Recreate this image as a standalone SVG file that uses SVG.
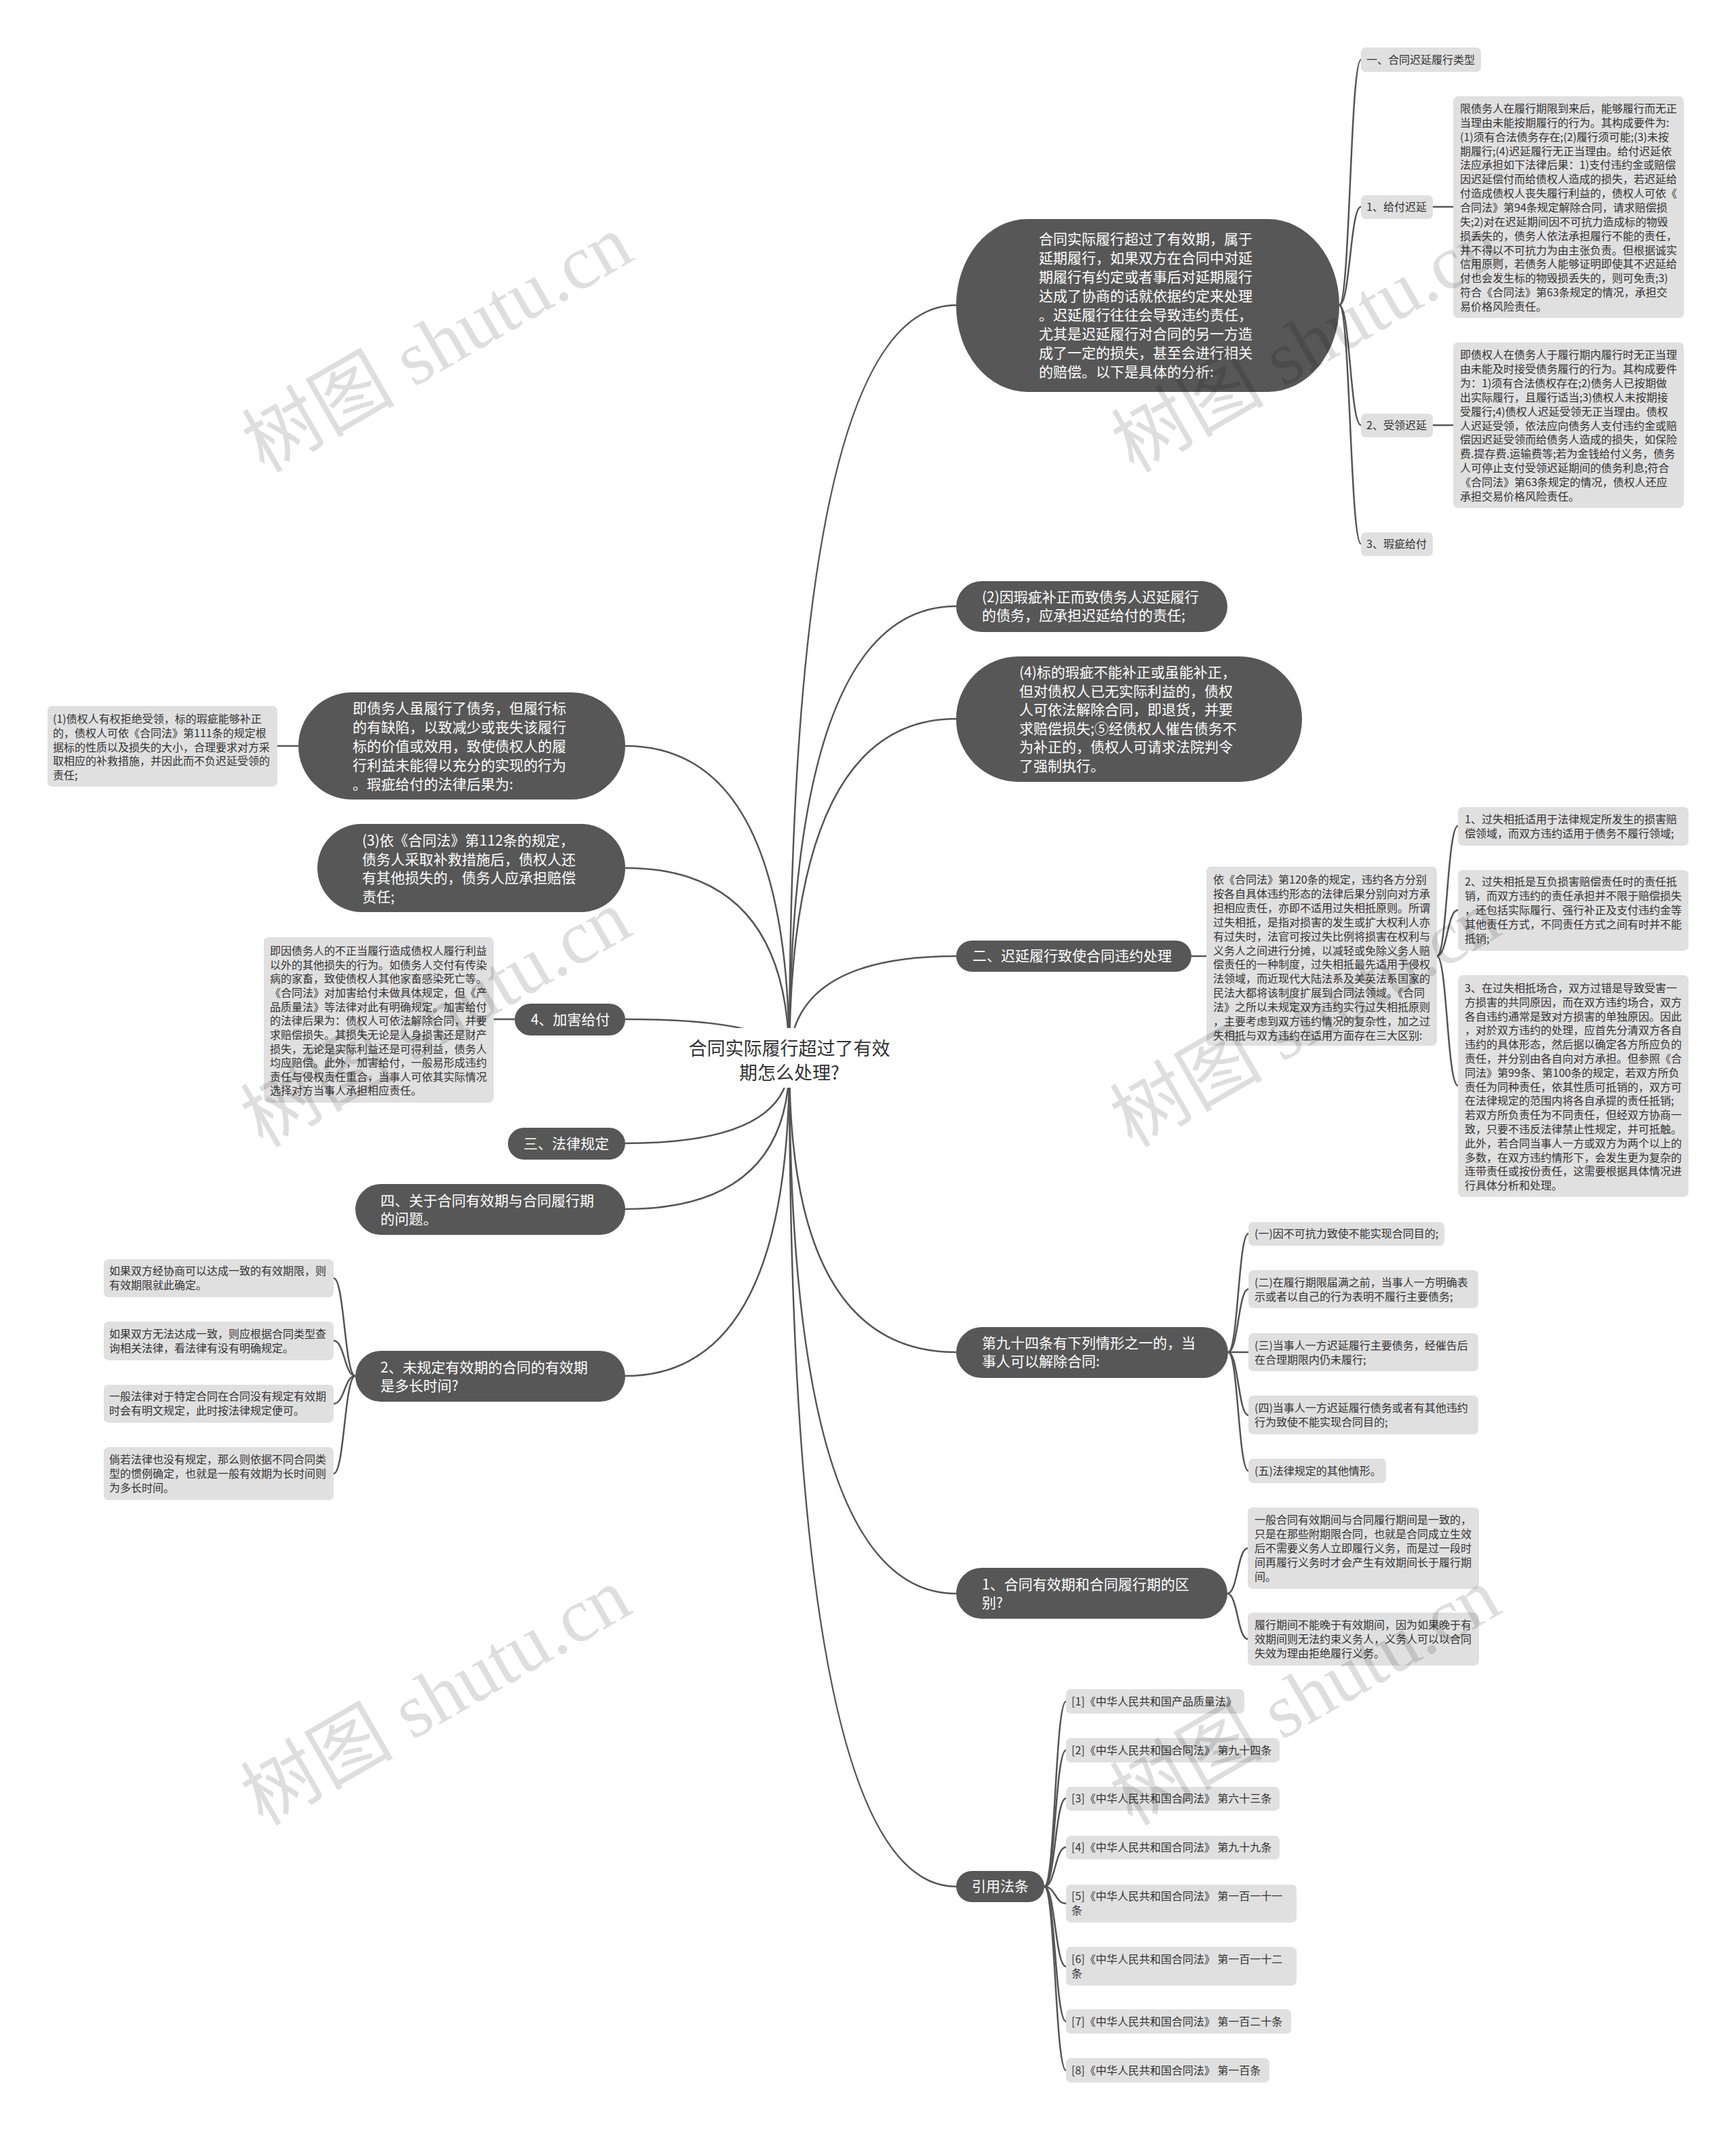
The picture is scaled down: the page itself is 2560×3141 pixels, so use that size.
<svg xmlns="http://www.w3.org/2000/svg" width="2560" height="3141" viewBox="0 0 2560 3141">
<style>
.dk{fill:#575757}
.lt{fill:#e0e0e0}
.tw{fill:#ffffff;font-family:"Noto Sans CJK SC","Liberation Sans",sans-serif;font-size:21px}
.td{fill:#333333;font-family:"Noto Sans CJK SC","Liberation Sans",sans-serif;font-size:16px}
.rt{fill:#333333;font-family:"Noto Sans CJK SC","Liberation Sans",sans-serif;font-size:27px}
.c{fill:none;stroke:#555555;stroke-width:2.5}
.wm{fill:#000000;fill-opacity:0.13;font-family:"Liberation Serif","Noto Sans CJK SC",serif;font-size:113px}
</style>
<rect width="2560" height="3141" fill="#ffffff"/>
<g id="connectors">
<path class="c" d="M1164 1566 Q1164 450 1410 450"/>
<path class="c" d="M1164 1566 Q1164 894 1410 894"/>
<path class="c" d="M1164 1566 Q1164 1060 1410 1060"/>
<path class="c" d="M1164 1566 Q1164 1410 1410 1410"/>
<path class="c" d="M1164 1566 Q1164 1994 1410 1994"/>
<path class="c" d="M1164 1566 Q1164 2350 1410 2350"/>
<path class="c" d="M1164 1566 Q1164 2782 1410 2782"/>
<path class="c" d="M1164 1566 Q1164 1100 922 1100"/>
<path class="c" d="M1164 1566 Q1164 1280 922 1280"/>
<path class="c" d="M1164 1566 Q1164 1503 922 1503"/>
<path class="c" d="M1164 1566 Q1164 1686 922 1686"/>
<path class="c" d="M1164 1566 Q1164 1783 922 1783"/>
<path class="c" d="M1164 1566 Q1164 2029 922 2029"/>
<path class="c" d="M1975 450 C1991 450 1991 88 2007 88"/>
<path class="c" d="M1975 450 C1991 450 1991 305 2007 305"/>
<path class="c" d="M1975 450 C1991 450 1991 627 2007 627"/>
<path class="c" d="M1975 450 C1991 450 1991 802 2007 802"/>
<path class="c" d="M2113 305 L2143 305"/>
<path class="c" d="M2113 627 L2143 627"/>
<path class="c" d="M1757 1410 L1779 1410"/>
<path class="c" d="M2119 1410 C2134 1410 2134 1218 2150 1218"/>
<path class="c" d="M2119 1410 C2134 1410 2134 1342 2150 1342"/>
<path class="c" d="M2119 1410 C2134 1410 2134 1601 2150 1601"/>
<path class="c" d="M1811 1994 C1826 1994 1826 1819 1841 1819"/>
<path class="c" d="M1811 1994 C1826 1994 1826 1901 1841 1901"/>
<path class="c" d="M1811 1994 L1841 1994"/>
<path class="c" d="M1811 1994 C1826 1994 1826 2087 1841 2087"/>
<path class="c" d="M1811 1994 C1826 1994 1826 2169 1841 2169"/>
<path class="c" d="M1810 2350 C1825 2350 1825 2283 1840 2283"/>
<path class="c" d="M1810 2350 C1825 2350 1825 2417 1840 2417"/>
<path class="c" d="M1540 2782 C1556 2782 1556 2509 1572 2509"/>
<path class="c" d="M1540 2782 C1556 2782 1556 2581 1572 2581"/>
<path class="c" d="M1540 2782 C1556 2782 1556 2652 1572 2652"/>
<path class="c" d="M1540 2782 C1556 2782 1556 2724 1572 2724"/>
<path class="c" d="M1540 2782 C1556 2782 1556 2807 1572 2807"/>
<path class="c" d="M1540 2782 C1556 2782 1556 2900 1572 2900"/>
<path class="c" d="M1540 2782 C1556 2782 1556 2981 1572 2981"/>
<path class="c" d="M1540 2782 C1556 2782 1556 3053 1572 3053"/>
<path class="c" d="M440 1100 L409 1100"/>
<path class="c" d="M759 1503 L728 1503"/>
<path class="c" d="M524 2029 C508 2029 508 1885 492 1885"/>
<path class="c" d="M524 2029 C508 2029 508 1977 492 1977"/>
<path class="c" d="M524 2029 C508 2029 508 2070 492 2070"/>
<path class="c" d="M524 2029 C508 2029 508 2173 492 2173"/>
</g>
<g id="root">
<rect x="996" y="1516" width="336" height="88" rx="10" fill="#ffffff"/>
<text class="rt" text-anchor="middle"><tspan x="1164" y="1556">合同实际履行超过了有效</tspan><tspan x="1164" y="1592">期怎么处理?</tspan></text>
</g>
<g id="nA">
<rect class="dk" x="1410" y="323" width="565" height="255" rx="105" ry="127"/>
<text class="tw"><tspan x="1532" y="360">合同实际履行超过了有效期，属于</tspan><tspan x="1532" y="388">延期履行，如果双方在合同中对延</tspan><tspan x="1532" y="416">期履行有约定或者事后对延期履行</tspan><tspan x="1532" y="444">达成了协商的话就依据约定来处理</tspan><tspan x="1532" y="472">。迟延履行往往会导致违约责任，</tspan><tspan x="1532" y="500">尤其是迟延履行对合同的另一方造</tspan><tspan x="1532" y="528">成了一定的损失，甚至会进行相关</tspan><tspan x="1532" y="556">的赔偿。以下是具体的分析:</tspan></text>
</g>
<g id="nA1">
<rect class="lt" x="2007" y="70" width="177" height="36" rx="7"/>
<text class="td" x="2015" y="94">一、合同迟延履行类型</text>
</g>
<g id="nA2">
<rect class="lt" x="2007" y="288" width="106" height="35" rx="7"/>
<text class="td" x="2015" y="311">1、给付迟延</text>
</g>
<g id="nA2t">
<rect class="lt" x="2143" y="142" width="340" height="327" rx="7"/>
<text class="td"><tspan x="2153" y="166">限债务人在履行期限到来后，能够履行而无正</tspan><tspan x="2153" y="187">当理由未能按期履行的行为。其构成要件为:</tspan><tspan x="2153" y="208">(1)须有合法债务存在;(2)履行须可能;(3)未按</tspan><tspan x="2153" y="229">期履行;(4)迟延履行无正当理由。给付迟延依</tspan><tspan x="2153" y="249">法应承担如下法律后果：1)支付违约金或赔偿</tspan><tspan x="2153" y="270">因迟延偿付而给债权人造成的损失，若迟延给</tspan><tspan x="2153" y="291">付造成债权人丧失履行利益的，债权人可依《</tspan><tspan x="2153" y="312">合同法》第94条规定解除合同，请求赔偿损</tspan><tspan x="2153" y="333">失;2)对在迟延期间因不可抗力造成标的物毁</tspan><tspan x="2153" y="354">损丢失的，债务人依法承担履行不能的责任，</tspan><tspan x="2153" y="375">并不得以不可抗力为由主张负责。但根据诚实</tspan><tspan x="2153" y="395">信用原则，若债务人能够证明即使其不迟延给</tspan><tspan x="2153" y="416">付也会发生标的物毁损丢失的，则可免责;3)</tspan><tspan x="2153" y="437">符合《合同法》第63条规定的情况，承担交</tspan><tspan x="2153" y="458">易价格风险责任。</tspan></text>
</g>
<g id="nA3">
<rect class="lt" x="2007" y="610" width="106" height="35" rx="7"/>
<text class="td" x="2015" y="633">2、受领迟延</text>
</g>
<g id="nA3t">
<rect class="lt" x="2143" y="505" width="340" height="244" rx="7"/>
<text class="td"><tspan x="2153" y="529">即债权人在债务人于履行期内履行时无正当理</tspan><tspan x="2153" y="550">由未能及时接受债务履行的行为。其构成要件</tspan><tspan x="2153" y="571">为：1)须有合法债权存在;2)债务人已按期做</tspan><tspan x="2153" y="592">出实际履行，且履行适当;3)债权人未按期接</tspan><tspan x="2153" y="613">受履行;4)债权人迟延受领无正当理由。债权</tspan><tspan x="2153" y="634">人迟延受领，依法应向债务人支付违约金或赔</tspan><tspan x="2153" y="654">偿因迟延受领而给债务人造成的损失，如保险</tspan><tspan x="2153" y="675">费.提存费.运输费等;若为金钱给付义务，债务</tspan><tspan x="2153" y="696">人可停止支付受领迟延期间的债务利息;符合</tspan><tspan x="2153" y="717">《合同法》第63条规定的情况，债权人还应</tspan><tspan x="2153" y="738">承担交易价格风险责任。</tspan></text>
</g>
<g id="nA4">
<rect class="lt" x="2007" y="785" width="106" height="35" rx="7"/>
<text class="td" x="2015" y="808">3、瑕疵给付</text>
</g>
<g id="nB">
<rect class="dk" x="1410" y="857" width="400" height="75" rx="37.5"/>
<text class="tw"><tspan x="1448" y="888">(2)因瑕疵补正而致债务人迟延履行</tspan><tspan x="1448" y="915">的债务，应承担迟延给付的责任;</tspan></text>
</g>
<g id="nC">
<rect class="dk" x="1410" y="968" width="510" height="185" rx="92" ry="92"/>
<text class="tw"><tspan x="1503" y="999">(4)标的瑕疵不能补正或虽能补正，</tspan><tspan x="1503" y="1027">但对债权人已无实际利益的，债权</tspan><tspan x="1503" y="1054">人可依法解除合同，即退货，并要</tspan><tspan x="1503" y="1082">求赔偿损失;⑤经债权人催告债务不</tspan><tspan x="1503" y="1109">为补正的，债权人可请求法院判令</tspan><tspan x="1503" y="1137">了强制执行。</tspan></text>
</g>
<g id="nD">
<rect class="dk" x="1410" y="1387" width="347" height="46" rx="23"/>
<text class="tw" x="1434" y="1417">二、迟延履行致使合同违约处理</text>
</g>
<g id="nD1">
<rect class="lt" x="1779" y="1278" width="340" height="264" rx="7"/>
<text class="td"><tspan x="1789" y="1303">依《合同法》第120条的规定，违约各方分别</tspan><tspan x="1789" y="1324">按各自具体违约形态的法律后果分别向对方承</tspan><tspan x="1789" y="1345">担相应责任，亦即不适用过失相抵原则。所谓</tspan><tspan x="1789" y="1366">过失相抵，是指对损害的发生或扩大权利人亦</tspan><tspan x="1789" y="1387">有过失时，法官可按过失比例将损害在权利与</tspan><tspan x="1789" y="1408">义务人之间进行分摊，以减轻或免除义务人赔</tspan><tspan x="1789" y="1428">偿责任的一种制度，过失相抵最先适用于侵权</tspan><tspan x="1789" y="1449">法领域，而近现代大陆法系及美英法系国家的</tspan><tspan x="1789" y="1470">民法大都将该制度扩展到合同法领域。《合同</tspan><tspan x="1789" y="1491">法》之所以未规定双方违约实行过失相抵原则</tspan><tspan x="1789" y="1512">，主要考虑到双方违约情况的复杂性，加之过</tspan><tspan x="1789" y="1533">失相抵与双方违约在适用方面存在三大区别:</tspan></text>
</g>
<g id="nD1a">
<rect class="lt" x="2150" y="1190" width="340" height="57" rx="7"/>
<text class="td"><tspan x="2160" y="1214">1、过失相抵适用于法律规定所发生的损害赔</tspan><tspan x="2160" y="1235">偿领域，而双方违约适用于债务不履行领域;</tspan></text>
</g>
<g id="nD1b">
<rect class="lt" x="2150" y="1283" width="340" height="119" rx="7"/>
<text class="td"><tspan x="2160" y="1306">2、过失相抵是互负损害赔偿责任时的责任抵</tspan><tspan x="2160" y="1327">销，而双方违约的责任承担并不限于赔偿损失</tspan><tspan x="2160" y="1348">，还包括实际履行、强行补正及支付违约金等</tspan><tspan x="2160" y="1369">其他责任方式，不同责任方式之间有时并不能</tspan><tspan x="2160" y="1390">抵销;</tspan></text>
</g>
<g id="nD1c">
<rect class="lt" x="2150" y="1438" width="340" height="327" rx="7"/>
<text class="td"><tspan x="2160" y="1463">3、在过失相抵场合，双方过错是导致受害一</tspan><tspan x="2160" y="1484">方损害的共同原因，而在双方违约场合，双方</tspan><tspan x="2160" y="1505">各自违约通常是致对方损害的单独原因。因此</tspan><tspan x="2160" y="1525">，对於双方违约的处理，应首先分清双方各自</tspan><tspan x="2160" y="1546">违约的具体形态，然后据以确定各方所应负的</tspan><tspan x="2160" y="1567">责任，并分别由各自向对方承担。但参照《合</tspan><tspan x="2160" y="1588">同法》第99条、第100条的规定，若双方所负</tspan><tspan x="2160" y="1609">责任为同种责任，依其性质可抵销的，双方可</tspan><tspan x="2160" y="1629">在法律规定的范围内将各自承提的责任抵销;</tspan><tspan x="2160" y="1650">若双方所负责任为不同责任，但经双方协商一</tspan><tspan x="2160" y="1671">致，只要不违反法律禁止性规定，并可抵触。</tspan><tspan x="2160" y="1692">此外，若合同当事人一方或双方为两个以上的</tspan><tspan x="2160" y="1713">多数，在双方违约情形下，会发生更为复杂的</tspan><tspan x="2160" y="1733">连带责任或按份责任，这需要根据具体情况进</tspan><tspan x="2160" y="1754">行具体分析和处理。</tspan></text>
</g>
<g id="nE">
<rect class="dk" x="1410" y="1957" width="401" height="75" rx="37.5"/>
<text class="tw"><tspan x="1448" y="1988">第九十四条有下列情形之一的，当</tspan><tspan x="1448" y="2015">事人可以解除合同:</tspan></text>
</g>
<g id="nE1">
<rect class="lt" x="1841" y="1802" width="289" height="35" rx="7"/>
<text class="td" x="1850" y="1825">(一)因不可抗力致使不能实现合同目的;</text>
</g>
<g id="nE2">
<rect class="lt" x="1841" y="1873" width="339" height="56" rx="7"/>
<text class="td"><tspan x="1850" y="1897">(二)在履行期限届满之前，当事人一方明确表</tspan><tspan x="1850" y="1918">示或者以自己的行为表明不履行主要债务;</tspan></text>
</g>
<g id="nE3">
<rect class="lt" x="1841" y="1966" width="339" height="56" rx="7"/>
<text class="td"><tspan x="1850" y="1990">(三)当事人一方迟延履行主要债务，经催告后</tspan><tspan x="1850" y="2011">在合理期限内仍未履行;</tspan></text>
</g>
<g id="nE4">
<rect class="lt" x="1841" y="2058" width="339" height="57" rx="7"/>
<text class="td"><tspan x="1850" y="2082">(四)当事人一方迟延履行债务或者有其他违约</tspan><tspan x="1850" y="2103">行为致使不能实现合同目的;</tspan></text>
</g>
<g id="nE5">
<rect class="lt" x="1841" y="2151" width="203" height="36" rx="7"/>
<text class="td" x="1850" y="2175">(五)法律规定的其他情形。</text>
</g>
<g id="nF">
<rect class="dk" x="1410" y="2312" width="400" height="75" rx="37.5"/>
<text class="tw"><tspan x="1448" y="2344">1、合同有效期和合同履行期的区</tspan><tspan x="1448" y="2371">别?</tspan></text>
</g>
<g id="nF1">
<rect class="lt" x="1840" y="2223" width="341" height="120" rx="7"/>
<text class="td"><tspan x="1850" y="2247">一般合同有效期间与合同履行期间是一致的，</tspan><tspan x="1850" y="2268">只是在那些附期限合同，也就是合同成立生效</tspan><tspan x="1850" y="2289">后不需要义务人立即履行义务，而是过一段时</tspan><tspan x="1850" y="2310">间再履行义务时才会产生有效期间长于履行期</tspan><tspan x="1850" y="2331">间。</tspan></text>
</g>
<g id="nF2">
<rect class="lt" x="1840" y="2378" width="341" height="78" rx="7"/>
<text class="td"><tspan x="1850" y="2402">履行期间不能晚于有效期间，因为如果晚于有</tspan><tspan x="1850" y="2423">效期间则无法约束义务人，义务人可以以合同</tspan><tspan x="1850" y="2444">失效为理由拒绝履行义务。</tspan></text>
</g>
<g id="nG">
<rect class="dk" x="1410" y="2759" width="130" height="46" rx="23"/>
<text class="tw" x="1475" y="2789" text-anchor="middle">引用法条</text>
</g>
<g id="nG1"><rect class="lt" x="1572" y="2491" width="263" height="36" rx="7"/><text class="td" x="1580" y="2515">[1]《中华人民共和国产品质量法》</text></g>
<g id="nG2"><rect class="lt" x="1572" y="2563" width="315" height="36" rx="7"/><text class="td" x="1580" y="2587">[2]《中华人民共和国合同法》 第九十四条</text></g>
<g id="nG3"><rect class="lt" x="1572" y="2635" width="315" height="35" rx="7"/><text class="td" x="1580" y="2658">[3]《中华人民共和国合同法》 第六十三条</text></g>
<g id="nG4"><rect class="lt" x="1572" y="2707" width="315" height="35" rx="7"/><text class="td" x="1580" y="2730">[4]《中华人民共和国合同法》 第九十九条</text></g>
<g id="nG5"><rect class="lt" x="1572" y="2779" width="340" height="56" rx="7"/><text class="td"><tspan x="1580" y="2802">[5]《中华人民共和国合同法》 第一百一十一</tspan><tspan x="1580" y="2823">条</tspan></text></g>
<g id="nG6"><rect class="lt" x="1572" y="2871" width="340" height="57" rx="7"/><text class="td"><tspan x="1580" y="2895">[6]《中华人民共和国合同法》 第一百一十二</tspan><tspan x="1580" y="2916">条</tspan></text></g>
<g id="nG7"><rect class="lt" x="1572" y="2963" width="332" height="36" rx="7"/><text class="td" x="1580" y="2987">[7]《中华人民共和国合同法》 第一百二十条</text></g>
<g id="nG8"><rect class="lt" x="1572" y="3035" width="300" height="36" rx="7"/><text class="td" x="1580" y="3059">[8]《中华人民共和国合同法》 第一百条</text></g>
<g id="nH">
<rect class="dk" x="440" y="1021" width="482" height="158" rx="79"/>
<text class="tw"><tspan x="520" y="1052">即债务人虽履行了债务，但履行标</tspan><tspan x="520" y="1080">的有缺陷，以致减少或丧失该履行</tspan><tspan x="520" y="1108">标的价值或效用，致使债权人的履</tspan><tspan x="520" y="1136">行利益未能得以充分的实现的行为</tspan><tspan x="520" y="1164">。瑕疵给付的法律后果为:</tspan></text>
</g>
<g id="nH1">
<rect class="lt" x="70" y="1041" width="339" height="119" rx="7"/>
<text class="td"><tspan x="78" y="1066">(1)债权人有权拒绝受领，标的瑕疵能够补正</tspan><tspan x="78" y="1087">的，债权人可依《合同法》第111条的规定根</tspan><tspan x="78" y="1108">据标的性质以及损失的大小，合理要求对方采</tspan><tspan x="78" y="1128">取相应的补救措施，并因此而不负迟延受领的</tspan><tspan x="78" y="1149">责任;</tspan></text>
</g>
<g id="nI">
<rect class="dk" x="468" y="1215" width="454" height="130" rx="65"/>
<text class="tw"><tspan x="534" y="1247">(3)依《合同法》第112条的规定，</tspan><tspan x="534" y="1275">债务人采取补救措施后，债权人还</tspan><tspan x="534" y="1302">有其他损失的，债务人应承担赔偿</tspan><tspan x="534" y="1330">责任;</tspan></text>
</g>
<g id="nJ">
<rect class="dk" x="759" y="1480" width="163" height="47" rx="23.5"/>
<text class="tw" x="841" y="1511" text-anchor="middle">4、加害给付</text>
</g>
<g id="nJ1">
<rect class="lt" x="389" y="1382" width="339" height="244" rx="7"/>
<text class="td"><tspan x="398" y="1408">即因债务人的不正当履行造成债权人履行利益</tspan><tspan x="398" y="1429">以外的其他损失的行为。如债务人交付有传染</tspan><tspan x="398" y="1449">病的家畜，致使债权人其他家畜感染死亡等。</tspan><tspan x="398" y="1470">《合同法》对加害给付未做具体规定，但《产</tspan><tspan x="398" y="1491">品质量法》等法律对此有明确规定。加害给付</tspan><tspan x="398" y="1511">的法律后果为：债权人可依法解除合同，并要</tspan><tspan x="398" y="1532">求赔偿损失。其损失无论是人身损害还是财产</tspan><tspan x="398" y="1553">损失，无论是实际利益还是可得利益，债务人</tspan><tspan x="398" y="1573">均应赔偿。此外，加害给付，一般易形成违约</tspan><tspan x="398" y="1594">责任与侵权责任重合，当事人可依其实际情况</tspan><tspan x="398" y="1614">选择对方当事人承担相应责任。</tspan></text>
</g>
<g id="nK">
<rect class="dk" x="749" y="1663" width="173" height="47" rx="23.5"/>
<text class="tw" x="835" y="1694" text-anchor="middle">三、法律规定</text>
</g>
<g id="nL">
<rect class="dk" x="524" y="1746" width="398" height="75" rx="37.5"/>
<text class="tw"><tspan x="561" y="1778">四、关于合同有效期与合同履行期</tspan><tspan x="561" y="1805">的问题。</tspan></text>
</g>
<g id="nM">
<rect class="dk" x="524" y="1992" width="398" height="75" rx="37.5"/>
<text class="tw"><tspan x="561" y="2024">2、未规定有效期的合同的有效期</tspan><tspan x="561" y="2051">是多长时间?</tspan></text>
</g>
<g id="nM1"><rect class="lt" x="153" y="1857" width="339" height="56" rx="7"/><text class="td"><tspan x="161" y="1880">如果双方经协商可以达成一致的有效期限，则</tspan><tspan x="161" y="1901">有效期限就此确定。</tspan></text></g>
<g id="nM2"><rect class="lt" x="153" y="1949" width="339" height="57" rx="7"/><text class="td"><tspan x="161" y="1973">如果双方无法达成一致，则应根据合同类型查</tspan><tspan x="161" y="1994">询相关法律，看法律有没有明确规定。</tspan></text></g>
<g id="nM3"><rect class="lt" x="153" y="2042" width="339" height="56" rx="7"/><text class="td"><tspan x="161" y="2065">一般法律对于特定合同在合同没有规定有效期</tspan><tspan x="161" y="2086">时会有明文规定，此时按法律规定便可。</tspan></text></g>
<g id="nM4"><rect class="lt" x="153" y="2134" width="339" height="78" rx="7"/><text class="td"><tspan x="161" y="2158">倘若法律也没有规定，那么则依据不同合同类</tspan><tspan x="161" y="2179">型的惯例确定，也就是一般有效期为长时间则</tspan><tspan x="161" y="2200">为多长时间。</tspan></text></g>
<g id="watermarks">
<text class="wm" text-anchor="middle" transform="translate(664 540) rotate(-30)">树图 shutu.cn</text>
<text class="wm" text-anchor="middle" transform="translate(1946 540) rotate(-30)">树图 shutu.cn</text>
<text class="wm" text-anchor="middle" transform="translate(662 1535) rotate(-30)">树图 shutu.cn</text>
<text class="wm" text-anchor="middle" transform="translate(1944 1535) rotate(-30)">树图 shutu.cn</text>
<text class="wm" text-anchor="middle" transform="translate(662 2535) rotate(-30)">树图 shutu.cn</text>
<text class="wm" text-anchor="middle" transform="translate(1944 2535) rotate(-30)">树图 shutu.cn</text>
</g>
</svg>
